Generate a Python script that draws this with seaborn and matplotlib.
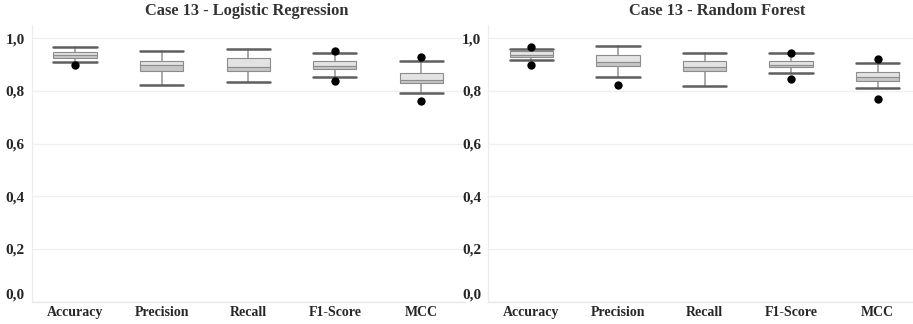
import matplotlib
matplotlib.use("Agg")
import matplotlib.pyplot as plt
import seaborn as sns
import pandas as pd
from matplotlib.ticker import FuncFormatter, FixedLocator

# ---------------- data ----------------
metrics = ["Accuracy", "Precision", "Recall", "F1-Score", "MCC"]

lr_whislo = [0.909, 0.821, 0.834, 0.854, 0.791]
lr_q1 = [0.924, 0.877, 0.877, 0.882, 0.831]
lr_med = [0.938, 0.897, 0.892, 0.895, 0.842]
lr_q3 = [0.949, 0.915, 0.923, 0.913, 0.869]
lr_whishi = [0.968, 0.953, 0.958, 0.943, 0.913]
lr_dot_metric = ["Accuracy", "F1-Score", "F1-Score", "MCC", "MCC"]
lr_dot_value = [0.897, 0.953, 0.839, 0.928, 0.763]

rf_whislo = [0.918, 0.852, 0.819, 0.869, 0.811]
rf_q1 = [0.930, 0.895, 0.875, 0.890, 0.839]
rf_med = [0.938, 0.910, 0.892, 0.897, 0.852]
rf_q3 = [0.951, 0.935, 0.913, 0.915, 0.872]
rf_whishi = [0.958, 0.971, 0.945, 0.943, 0.907]
rf_dot_metric = ["Accuracy", "Accuracy", "Precision", "F1-Score", "F1-Score", "MCC", "MCC"]
rf_dot_value = [0.966, 0.900, 0.821, 0.945, 0.846, 0.920, 0.771]

titles = ["Case 13 - Logistic Regression", "Case 13 - Random Forest"]
yticks = [0.0, 0.2, 0.4, 0.6, 0.8, 1.0]

# ---------------- style ----------------
sns.set_theme(style="white")
plt.rcParams["font.family"] = ["Liberation Serif", "DejaVu Serif"]

W, H = 913, 324
fig = plt.figure(figsize=(W / 100, H / 100), dpi=100)

ax_left_px = [31.7, 488.0]
ax_w_px = 433.0
ax_top_px, ax_bot_px = 25.0, 301.7

panels = [
    (lr_whislo, lr_q1, lr_med, lr_q3, lr_whishi, lr_dot_metric, lr_dot_value),
    (rf_whislo, rf_q1, rf_med, rf_q3, rf_whishi, rf_dot_metric, rf_dot_value),
]
title_x_px = [247, 717]

for i, (wlo, q1, med, q3, whi, dm, dv) in enumerate(panels):
    ax = fig.add_axes([ax_left_px[i] / W, (H - ax_bot_px) / H,
                       ax_w_px / W, (ax_bot_px - ax_top_px) / H])
    pos = list(range(len(metrics)))
    stats = [dict(med=med[k], q1=q1[k], q3=q3[k], whislo=wlo[k], whishi=whi[k], fliers=[])
             for k in pos]
    ax.bxp(stats, positions=pos, widths=0.5, showbox=False, showfliers=False,
           manage_ticks=False,
           medianprops=dict(linewidth=0),
           whiskerprops=dict(color="#9b9b9b", linewidth=1.2, zorder=2),
           capprops=dict(color="#5e5e5e", linewidth=1.8, zorder=3),
           capwidths=0.5)
    upper = [q3[k] - med[k] for k in pos]
    lower = [med[k] - q1[k] for k in pos]
    ax.bar(pos, upper, bottom=med, width=0.5, color="#e3e3e3",
           edgecolor="#8c8c8c", linewidth=0.8, zorder=2.5)
    ax.bar(pos, lower, bottom=q1, width=0.5, color="#c6c6c6",
           edgecolor="#8c8c8c", linewidth=0.8, zorder=2.5)

    dots = pd.DataFrame({"metric": dm, "value": dv})
    sns.stripplot(data=dots, x="metric", y="value", order=metrics, jitter=False,
                  color="black", size=6, linewidth=0, ax=ax, zorder=4)

    ax.set_xlim(-0.5, len(metrics) - 0.5)
    ax.set_ylim(0, 1.05)
    ax.set_xlabel("")
    ax.set_ylabel("")
    ax.yaxis.set_major_locator(FixedLocator(yticks))
    ax.yaxis.set_major_formatter(FuncFormatter(lambda v, p: f"{v:.1f}".replace(".", ",")))
    ax.grid(axis="y", color="#efefef", linewidth=0.9, zorder=0)
    ax.set_axisbelow(True)
    for s in ["top", "right"]:
        ax.spines[s].set_visible(False)
    ax.spines["left"].set_color("#ececec")
    ax.spines["bottom"].set_color("#e6e6e6")
    ax.spines["left"].set_linewidth(0.9)
    ax.spines["bottom"].set_linewidth(0.9)

    ax.set_xticks(pos)
    ax.set_xticklabels(metrics)
    ax.set_xticks([p - 0.5 for p in pos] + [len(metrics) - 0.5], minor=True)
    ax.tick_params(axis="x", which="major", length=0, pad=3)
    ax.tick_params(axis="x", which="minor", length=4, color="#e6e6e6", width=0.9)
    ax.tick_params(axis="y", length=0, pad=5)
    for lab in ax.get_xticklabels():
        lab.set_fontsize(10)
        lab.set_fontweight("bold")
        lab.set_color("#262626")
    for lab in ax.get_yticklabels():
        lab.set_fontsize(11)
        lab.set_fontweight("bold")
        lab.set_color("#262626")
    ax.get_yticklabels()[0].set_verticalalignment("bottom")

    fig.text(title_x_px[i] / W, 1 - 11 / H, titles[i], ha="center", va="center",
             fontsize=11.8, fontweight="bold", color="#333333")

fig.savefig("out.png", dpi=100)
